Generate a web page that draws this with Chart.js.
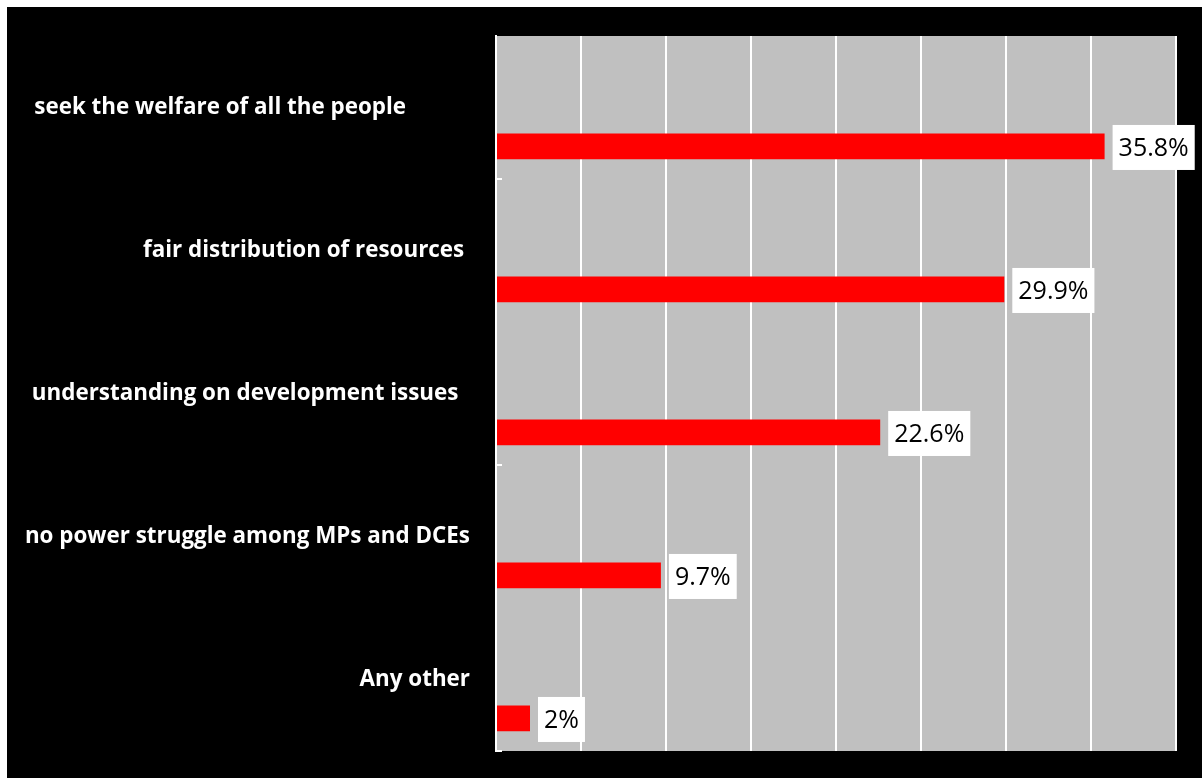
<!DOCTYPE html>
<html>
<head>
<meta charset="utf-8">
<script src="https://cdn.jsdelivr.net/npm/chart.js@4.4.0/dist/chart.umd.min.js"></script>
<style>
  html, body { margin: 0; padding: 0; background: #fff; }
  #wrap { position: absolute; left: 7px; top: 7px; width: 1195px; height: 771px; background: #000; }
</style>
</head>
<body>
<div id="wrap"><canvas id="chart"></canvas></div>
<script>
const categories = [
  'seek the welfare of all the people',
  'fair distribution of resources',
  'understanding on development issues',
  'no power struggle among MPs and DCEs',
  'Any other'
];
const shares = [35.8, 29.9, 22.6, 9.7, 2];
const axisMax = 40;
const axisStep = 5;

// extra blanks after some category names (they push the text left)
const trailingBlanks = [11, 1, 2, 0, 0];

// grey plot area behind the grid
const plotBackground = {
  id: 'plotBackground',
  beforeDraw(chart) {
    const { ctx, chartArea: a } = chart;
    ctx.save();
    ctx.fillStyle = '#c0c0c0';
    ctx.fillRect(a.left, a.top, a.right - a.left, a.bottom - a.top);
    ctx.restore();
  }
};

// short inner tick marks every second category, counted from the bottom
const innerTicks = {
  id: 'innerTicks',
  afterDraw(chart) {
    const { ctx, chartArea: a, scales: { y } } = chart;
    ctx.save();
    ctx.strokeStyle = '#ffffff';
    ctx.lineWidth = 2;
    for (let k = categories.length; k > 0; k -= 2) {
      const py = Math.round(y.getPixelForValue(k - 0.5));
      ctx.beginPath();
      ctx.moveTo(a.left, py);
      ctx.lineTo(a.left + 6, py);
      ctx.stroke();
    }
    ctx.restore();
  }
};

// white boxes with the value next to each bar
const valueBoxes = {
  id: 'valueBoxes',
  afterDatasetsDraw(chart) {
    const { ctx } = chart;
    const meta = chart.getDatasetMeta(1);
    ctx.save();
    ctx.font = '25px "Open Sans"';
    ctx.textAlign = 'center';
    ctx.textBaseline = 'middle';
    meta.data.forEach((bar, i) => {
      const text = shares[i] + '%';
      const w = ctx.measureText(text).width + 12;
      const h = 45;
      const x = bar.x + 8;
      const yc = bar.y + 1;
      ctx.fillStyle = '#ffffff';
      ctx.fillRect(x, yc - h / 2, w, h);
      ctx.fillStyle = '#000000';
      ctx.fillText(text, x + w / 2, yc + 1);
    });
    ctx.restore();
  }
};

new Chart(document.getElementById('chart'), {
  type: 'bar',
  data: {
    labels: categories,
    datasets: [
      {
        // empty series that keeps the bars in the lower half of each row
        data: categories.map(() => null),
        backgroundColor: 'rgba(0,0,0,0)'
      },
      {
        data: shares,
        backgroundColor: '#ff0000',
        borderWidth: 0
      }
    ]
  },
  options: {
    indexAxis: 'y',
    responsive: true,
    maintainAspectRatio: false,
    animation: false,
    categoryPercentage: 1.09,
    barPercentage: 0.33,
    layout: { padding: { left: 0, right: 26, top: 29, bottom: 27 } },
    plugins: {
      legend: { display: false },
      tooltip: { enabled: false }
    },
    scales: {
      x: {
        min: 0,
        max: axisMax,
        ticks: { stepSize: axisStep, display: false },
        grid: { color: '#ffffff', lineWidth: 2, drawTicks: false },
        border: { display: false },
        afterFit(scale) {
          scale.height = 0;
          scale.paddingLeft = 0;
          scale.paddingRight = 0;
        }
      },
      y: {
        grid: { display: false, drawTicks: false },
        border: { display: true, color: '#ffffff', width: 2 },
        ticks: {
          color: '#ffffff',
          padding: 26,
          font: { family: '"Open Sans"', weight: 'bold', size: 22.4 },
          callback: function (value, index) {
            return categories[index] + ' '.repeat(trailingBlanks[index]);
          }
        },
        afterFit(scale) {
          scale.width = 489;
          scale.paddingTop = 0;
          scale.paddingBottom = 0;
        }
      }
    }
  },
  plugins: [plotBackground, innerTicks, valueBoxes]
});
</script>
</body>
</html>
